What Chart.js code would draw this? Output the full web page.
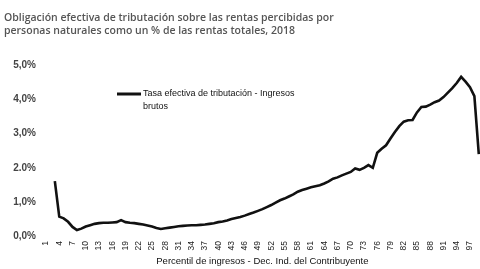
<!DOCTYPE html>
<html>
<head>
<meta charset="utf-8">
<script src="https://cdn.jsdelivr.net/npm/chart.js@4/dist/chart.umd.min.js"></script>
<style>
html,body{margin:0;padding:0;background:#fff;overflow:hidden;}
#wrap{width:494px;height:269px;position:relative;}
</style>
</head>
<body>
<div id="wrap"><canvas id="c"></canvas></div>
<script>
const titleLines = [
  "Obligación efectiva de tributación sobre las rentas percibidas por",
  "personas naturales como un % de las rentas totales, 2018"
];
const seriesLabel = "Tasa efectiva de tributación - Ingresos brutos";
const xAxisTitle = "Percentil de ingresos - Dec. Ind. del Contribuyente";
const yTickValues = [0, 1, 2, 3, 4, 5];
const yTickLabels = ["0,0%", "1,0%", "2.0%", "3,0%", "4,0%", "5,0%"];
const percentiles = [];
for (let i = 1; i <= 99; i++) percentiles.push(String(i));
// effective rate (%) per percentile 1..99
const rates = [
  null, null, 1.61, 0.57, 0.52, 0.42, 0.27, 0.18, 0.22, 0.28,
  0.32, 0.36, 0.38, 0.39, 0.39, 0.40, 0.41, 0.47, 0.41, 0.39,
  0.38, 0.36, 0.34, 0.31, 0.28, 0.24, 0.21, 0.23, 0.25, 0.27,
  0.29, 0.30, 0.31, 0.32, 0.32, 0.33, 0.34, 0.36, 0.38, 0.41,
  0.43, 0.46, 0.50, 0.53, 0.56, 0.60, 0.65, 0.69, 0.74, 0.79,
  0.85, 0.91, 0.98, 1.05, 1.10, 1.16, 1.22, 1.30, 1.35, 1.39,
  1.43, 1.46, 1.49, 1.54, 1.60, 1.68, 1.72, 1.78, 1.83, 1.88,
  1.98, 1.94, 2.00, 2.08, 2.00, 2.44, 2.56, 2.66, 2.86, 3.05,
  3.22, 3.35, 3.39, 3.40, 3.62, 3.78, 3.79, 3.85, 3.92, 3.97,
  4.07, 4.20, 4.33, 4.48, 4.66, 4.52, 4.36, 4.10, 2.40
];

const legendPlugin = {
  id: 'wrapLegend',
  afterDraw(chart) {
    const ctx = chart.ctx;
    const ds = chart.data.datasets[0];
    ctx.save();
    ctx.strokeStyle = ds.borderColor;
    ctx.lineWidth = 3;
    ctx.beginPath();
    ctx.moveTo(117, 94);
    ctx.lineTo(141, 94);
    ctx.stroke();
    ctx.fillStyle = '#111';
    ctx.font = '9px "Liberation Sans", Arial, sans-serif';
    ctx.textBaseline = 'middle';
    ctx.textAlign = 'left';
    const words = ds.label.split(' ');
    const line1 = words.slice(0, words.length - 1).join(' ');
    const line2 = words[words.length - 1];
    ctx.fillText(line1, 143, 94);
    ctx.fillText(line2, 143, 107);
    ctx.restore();
  }
};

new Chart(document.getElementById('c'), {
  type: 'line',
  data: {
    labels: percentiles,
    datasets: [{
      label: seriesLabel,
      data: rates,
      borderColor: '#111111',
      borderWidth: 2.6,
      pointRadius: 0,
      tension: 0,
      fill: false,
      spanGaps: false
    }]
  },
  options: {
    responsive: true,
    maintainAspectRatio: false,
    animation: false,
    layout: { padding: { left: 4, right: 1, top: 0, bottom: 2 } },
    plugins: {
      legend: { display: false },
      tooltip: { enabled: false },
      title: {
        display: true,
        text: titleLines,
        align: 'start',
        color: '#555',
        font: { family: '"Open Sans", sans-serif', size: 10.5, weight: '600', lineHeight: 1.3 },
        padding: { top: 11, bottom: 27 }
      }
    },
    scales: {
      x: {
        type: 'category',
        offset: false,
        grid: { display: false, drawTicks: false },
        border: { display: false },
        ticks: {
          autoSkip: false,
          maxRotation: 90,
          minRotation: 90,
          padding: 5,
          color: '#222',
          font: { family: '"Liberation Sans", Arial, sans-serif', size: 8.5 },
          callback: function(v, i) { return i % 3 === 0 ? this.getLabelForValue(v) : ''; }
        },
        title: {
          display: true,
          text: xAxisTitle,
          color: '#111',
          font: { family: '"Liberation Sans", Arial, sans-serif', size: 9.5 },
          padding: { top: 0, bottom: 0 }
        }
      },
      y: {
        min: 0,
        max: 5,
        afterFit(scale) { scale.width = 42; },
        afterBuildTicks(scale) { scale.ticks = yTickValues.map(v => ({ value: v })); },
        grid: { display: false, drawTicks: false },
        border: { display: false },
        ticks: {
          padding: 10,
          color: '#444',
          font: { family: '"Liberation Sans", Arial, sans-serif', size: 10, weight: 'bold' },
          callback: function(v) { const i = yTickValues.indexOf(v); return i >= 0 ? yTickLabels[i] : ''; }
        }
      }
    }
  },
  plugins: [legendPlugin]
});
</script>
</body>
</html>
